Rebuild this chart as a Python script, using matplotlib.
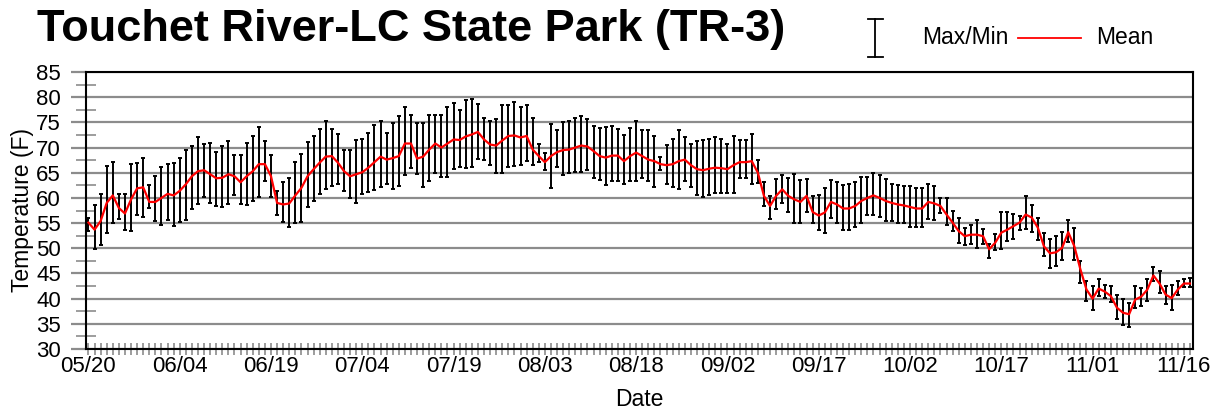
import numpy as np
import matplotlib
matplotlib.use("Agg")
import matplotlib.pyplot as plt
from matplotlib.lines import Line2D
from matplotlib.ticker import MultipleLocator

# daily temperature stats, 05/20 onwards
t_max = [56.1, 58.6, 60.8, 66.3, 67.2, 60.8, 60.8, 66.7, 66.9, 68.0,
         62.5, 64.3, 66.1, 66.7, 66.9, 68.0, 69.6, 70.4, 72.0, 70.7,
         71.0, 69.2, 70.4, 71.3, 68.6, 68.6, 71.0, 72.3, 74.1, 71.3,
         68.6, 61.4, 63.1, 64.0, 67.2, 68.8, 71.1, 72.3, 73.7, 75.3,
         73.7, 72.6, 69.6, 69.6, 71.4, 71.6, 72.8, 74.4, 75.3, 72.8,
         74.9, 76.3, 78.0, 76.5, 74.9, 74.9, 76.5, 76.5, 76.5, 78.0,
         78.8, 77.5, 79.4, 79.7, 78.7, 75.9, 75.3, 75.6, 78.4, 78.4,
         79.0, 78.0, 78.4, 75.9, 70.8, 69.0, 74.7, 73.5, 75.1, 75.3,
         75.9, 76.3, 75.6, 74.3, 73.8, 74.1, 74.3, 73.7, 72.5, 73.8,
         75.3, 73.5, 73.5, 72.3, 68.1, 70.5, 71.6, 73.5, 72.0, 70.8,
         71.3, 71.4, 71.6, 72.0, 71.6, 70.8, 72.3, 71.4, 71.4, 72.6,
         67.6, 63.2, 60.4, 63.8, 64.5, 64.0, 64.8, 63.5, 63.8, 60.4,
         60.6, 62.0, 63.5, 63.1, 62.5, 62.8, 63.1, 64.1, 64.1, 64.9,
         64.5, 63.8, 62.8, 62.5, 62.4, 62.4, 62.0, 62.0, 62.8, 62.4,
         60.0, 60.0, 57.4, 56.1, 54.1, 54.7, 55.7, 53.9, 50.9, 52.8,
         57.2, 57.2, 56.9, 56.4, 60.4, 58.6, 56.1, 53.0, 51.8, 52.5,
         53.2, 55.7, 54.1, 47.5, 43.6, 42.5, 43.8, 42.8, 42.5, 40.7,
         40.0, 39.2, 42.5, 42.2, 43.8, 46.3, 45.4, 42.5, 42.8, 43.5,
         43.8, 44.1]
t_min = [53.4, 49.8, 50.7, 53.0, 55.1, 55.9, 53.7, 53.4, 56.7, 56.3,
         57.9, 55.4, 54.6, 55.7, 54.4, 55.2, 55.7, 57.7, 58.8, 60.2,
         59.0, 58.4, 58.2, 58.7, 60.5, 58.7, 58.5, 59.4, 60.2, 63.3,
         60.2, 56.7, 55.3, 54.3, 55.1, 55.3, 58.2, 59.4, 60.7, 61.8,
         62.4, 62.7, 61.4, 59.9, 59.0, 60.7, 61.2, 61.6, 62.2, 62.7,
         61.7, 62.4, 64.5, 66.0, 64.7, 62.2, 63.3, 65.0, 64.2, 64.2,
         65.7, 66.2, 66.0, 66.2, 67.8, 67.5, 66.5, 65.0, 65.0, 66.2,
         66.3, 66.5, 67.3, 66.5, 67.1, 65.5, 62.0, 66.2, 64.5, 65.0,
         65.1, 65.1, 65.5, 64.0, 63.5, 62.5, 63.3, 63.3, 62.7, 63.3,
         63.3, 64.0, 63.3, 62.2, 65.5, 62.7, 62.2, 61.7, 63.3, 62.2,
         60.5, 60.2, 60.6, 61.0, 61.0, 61.0, 61.0, 64.0, 63.9, 62.7,
         63.0, 58.4, 55.9, 57.8, 58.9, 57.2, 55.1, 55.1, 57.2, 55.1,
         53.7, 53.0, 56.1, 55.1, 53.7, 53.7, 54.3, 55.1, 56.6, 56.7,
         56.3, 55.4, 55.4, 55.1, 55.1, 54.3, 54.3, 54.3, 55.9, 55.7,
         57.1, 54.6, 53.4, 51.0, 50.6, 50.9, 50.1, 50.8, 48.1, 49.6,
         49.8, 51.4, 51.8, 53.7, 53.9, 53.2, 51.6, 48.5, 46.1, 46.5,
         47.6, 51.2, 47.6, 43.1, 39.5, 37.8, 40.5, 40.2, 39.3, 35.9,
         34.7, 34.4, 38.2, 38.5, 39.5, 43.5, 41.2, 39.0, 37.8, 40.8,
         42.3, 42.3]
t_mean = [55.1, 53.7, 55.4, 59.0, 60.5, 58.0, 56.9, 59.7, 61.9, 62.1,
          59.2, 59.2, 60.0, 60.8, 60.5, 61.4, 62.7, 64.3, 65.3, 65.5,
          64.7, 63.9, 64.0, 64.7, 64.3, 63.1, 64.3, 65.3, 66.7, 66.7,
          64.3, 59.0, 58.7, 58.9, 60.5, 62.0, 64.3, 65.7, 67.0, 68.2,
          68.3, 67.0, 65.3, 64.3, 64.7, 65.1, 66.0, 67.1, 68.2, 67.6,
          67.9, 68.3, 70.8, 70.8, 67.8, 68.2, 69.6, 70.8, 70.0, 70.8,
          71.6, 71.5, 72.2, 72.6, 73.1, 71.6, 70.6, 70.4, 71.4, 72.3,
          72.4, 72.0, 72.3, 69.6, 68.3, 67.1, 68.3, 69.1, 69.5, 69.6,
          70.0, 70.4, 70.2, 69.3, 68.3, 68.0, 68.4, 68.4, 67.3, 68.3,
          69.0, 68.3, 67.6, 67.3, 66.7, 66.5, 66.7, 67.3, 67.6, 66.5,
          65.7, 65.5, 65.8, 66.0, 65.9, 65.7, 66.5, 67.1, 67.1, 67.3,
          65.0, 60.4, 58.4, 60.4, 61.7, 60.4, 59.7, 59.2, 60.4, 57.2,
          56.5, 57.1, 59.2, 58.7, 57.9, 57.9, 58.4, 59.4, 60.0, 60.5,
          60.0, 59.4, 59.0, 58.7, 58.5, 58.2, 57.9, 57.9, 59.2, 58.9,
          58.4, 56.7, 55.1, 53.4, 52.4, 52.7, 52.7, 52.4, 49.8, 51.1,
          53.1, 53.7, 54.4, 55.1, 56.7, 56.1, 54.1, 50.4, 49.0, 49.2,
          50.1, 53.2, 50.4, 45.8, 41.8, 40.0, 42.0, 41.4, 40.5, 38.2,
          37.2, 36.9, 39.8, 40.4, 41.8, 44.6, 43.0, 40.8, 40.1, 41.8,
          43.0, 43.0]

date_labels = ["05/20", "06/04", "06/19", "07/04", "07/19", "08/03", "08/18",
               "09/02", "09/17", "10/02", "10/17", "11/01", "11/16"]

plt.rcParams['font.family'] = ['Liberation Sans', 'DejaVu Sans']

W, H = 1225, 409
fig = plt.figure(figsize=(W / 100, H / 100), dpi=100)
ax = fig.add_axes([86 / W, 1 - 349 / H, (1193 - 86) / W, (349 - 72) / H])

days = np.arange(len(t_mean))
mean = np.array(t_mean)
err = [mean - np.array(t_min), np.array(t_max) - mean]

ax.errorbar(days, mean, yerr=err, fmt='none', ecolor='black',
            elinewidth=1.4, capsize=1.7, capthick=1.4, zorder=3)
ax.plot(days, mean, color='#ff0000', lw=1.6, zorder=4)

ax.set_xlim(-0.4, len(days) - 0.5)
ax.set_ylim(30, 85)

ax.set_xticks(np.arange(0, 15 * len(date_labels), 15))
ax.set_xticklabels(date_labels)
ax.xaxis.set_minor_locator(MultipleLocator(1))
ax.yaxis.set_major_locator(MultipleLocator(5))
ax.yaxis.set_minor_locator(MultipleLocator(2.5))

ax.grid(axis='y', which='major', color='#8c8c8c', lw=1.6, zorder=0)
ax.tick_params(axis='x', which='both', direction='inout', length=8,
               width=1.2, color='#8c8c8c', labelsize=16, pad=1)
ax.tick_params(axis='y', which='major', direction='out', length=11,
               width=1.6, color='#8c8c8c', labelsize=16, pad=7)
ax.tick_params(axis='y', which='minor', direction='inout', length=15,
               width=1.2, color='#8c8c8c')
for s in ax.spines.values():
    s.set_linewidth(1.5)
    s.set_color('black')

ax.set_xlabel('Date', fontsize=16.5)
ax.set_ylabel('Temperature (F)', fontsize=16.5)
ax.xaxis.set_label_coords(0.5, -0.141)
ax.yaxis.set_label_coords(-0.047, 0.5)

fig.text(37 / W, 1 - 30 / H, 'Touchet River-LC State Park (TR-3)',
         fontsize=32.5, fontweight='bold', va='center', ha='left')

# legend drawn by hand in figure pixels
def fx(x):
    return x / W

def fy(y):
    return 1 - y / H

fig.add_artist(Line2D([fx(875), fx(875)], [fy(19), fy(57)], color='black', lw=1.3))
fig.add_artist(Line2D([fx(868), fx(883)], [fy(19), fy(19)], color='black', lw=1.3))
fig.add_artist(Line2D([fx(868), fx(883)], [fy(57), fy(57)], color='black', lw=1.3))
fig.text(fx(922), fy(38), 'Max/Min', fontsize=16.5, va='center', ha='left')
fig.add_artist(Line2D([fx(1018), fx(1081)], [fy(38), fy(38)], color='#ff0000', lw=1.3))
fig.text(fx(1096), fy(38), 'Mean', fontsize=16.5, va='center', ha='left')

fig.savefig('out.png', dpi=100)
